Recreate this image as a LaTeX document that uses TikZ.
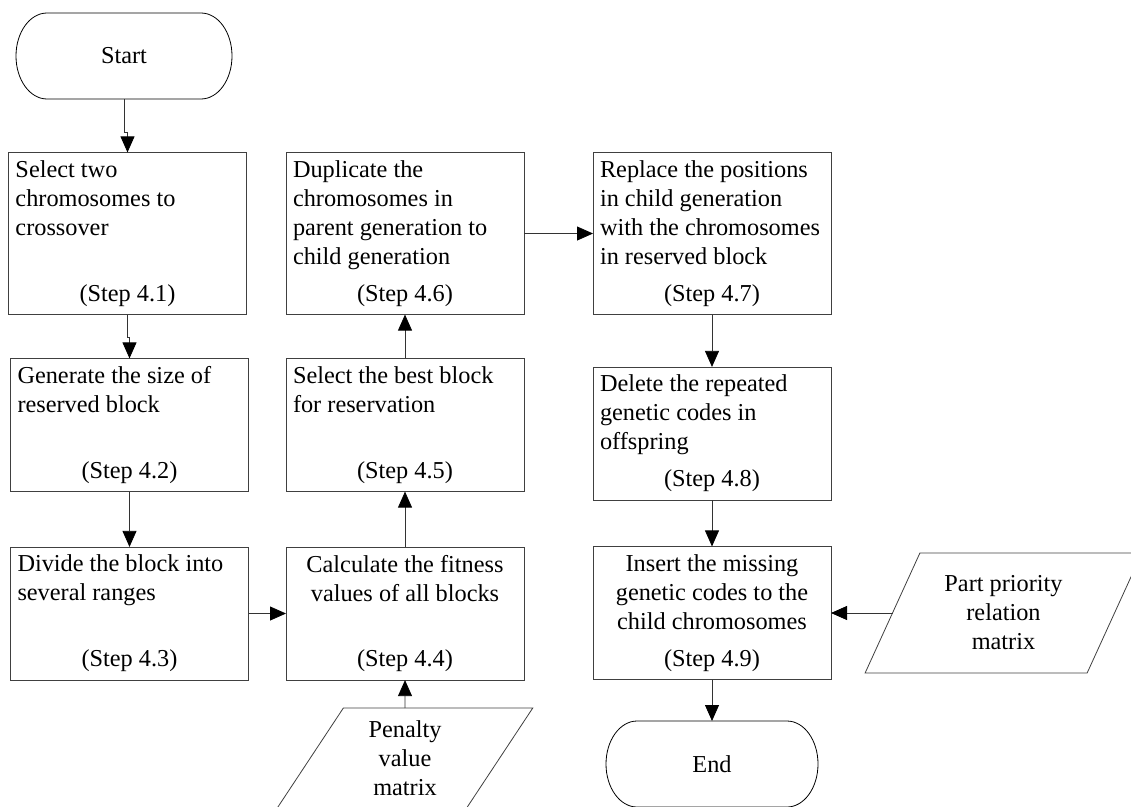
\documentclass[tikz,border=0pt]{standalone}
\usepackage{fontspec}
\setmainfont{Liberation Serif}
\usepackage{tikz}
\usetikzlibrary{arrows.meta,shapes.geometric}

\newcommand{\stepbody}[3]{\parbox[c][#1][s]{224pt}{\raggedright #2\par\vfill\centering #3}}
\newcommand{\termline}[1]{\draw[termline] ([xshift=31pt]#1.north west) -- ([xshift=-31pt]#1.north east) arc[start angle=90,end angle=-90,x radius=31pt,y radius=43pt] -- ([xshift=31pt]#1.south west) arc[start angle=270,end angle=90,x radius=31pt,y radius=43pt] -- cycle;}

\tikzset{
	stepbox/.style={draw=black!75,line width=0.8pt,inner xsep=7pt,inner ysep=8pt,outer sep=0pt},
	term/.style={minimum width=216pt,minimum height=86pt,inner sep=0pt,outer sep=0pt},
	termline/.style={draw=black,line width=0.8pt},
	datapar/.style={draw=black!75,line width=0.8pt,trapezium,trapezium left angle=62.5,trapezium right angle=117.5,trapezium stretches=true,align=center,inner sep=0pt,outer sep=0pt},
	arr/.style={draw=black!80,line width=0.8pt,-{Triangle[length=16pt,width=14pt,color=black]}},
}

\begin{document}
\begin{tikzpicture}[x=1pt,y=1pt,every node/.style={font=\fontsize{24.3pt}{29pt}\selectfont}]
			\useasboundingbox (0,0) rectangle (1131,-806);
			\clip (0,0) rectangle (1131,-806);
			% terminals
			\node (start) at (124,-56) [term] {Start};
			\termline{start}
			\node (stop) at (712,-764) [term,minimum width=212pt] {End};
			\termline{stop}
			% steps
			\node (s41) at (127.5,-233.5) [stepbox] {\stepbody{141pt}{Select two\\chromosomes to\\crossover}{(Step 4.1)}};
			\node (s42) at (129.5,-425) [stepbox] {\stepbody{112pt}{Generate the size of\\reserved block}{(Step 4.2)}};
			\node (s43) at (129.5,-613.5) [stepbox] {\stepbody{112pt}{Divide the block into\\several ranges}{(Step 4.3)}};
			\node (s44) at (405,-613.5) [stepbox] {\stepbody{112pt}{\centering Calculate the fitness\\values of all blocks}{(Step 4.4)}};
			\node (s45) at (405,-425) [stepbox] {\stepbody{112pt}{Select the best block\\for reservation}{(Step 4.5)}};
			\node (s46) at (405,-233.5) [stepbox] {\stepbody{141pt}{Duplicate the\\chromosomes in\\parent generation to\\child generation}{(Step 4.6)}};
			\node (s47) at (712,-233.5) [stepbox] {\stepbody{141pt}{Replace the positions\\in child generation\\with the chromosomes\\in reserved block}{(Step 4.7)}};
			\node (s48) at (712,-433.5) [stepbox] {\stepbody{112pt}{Delete the repeated\\genetic codes in\\offspring}{(Step 4.8)}};
			\node (s49) at (712,-613) [stepbox] {\stepbody{112pt}{\centering Insert the missing\\genetic codes to the\\child chromosomes}{(Step 4.9)}};
			% data
			\node (pen) at (405,-758) [datapar,minimum width=256pt,minimum height=100pt] {Penalty\\value\\matrix};
			\node (ppr) at (1003.5,-613) [datapar,minimum width=277pt,minimum height=120pt] {Part priority\\relation\\matrix};
			% flow
			\draw[arr] (start.south) -- ++(0,-33) -| (s41.north);
			\draw[arr] (s41.south) -- ++(0,-23) -| (s42.north);
			\draw[arr] (s42.south) -- (s43.north);
			\draw[arr] (s43.east) -- (s44.west);
			\draw[arr] (s44.north) -- (s45.south);
			\draw[arr] (s45.north) -- (s46.south);
			\draw[arr] (s46.east) -- (s47.west);
			\draw[arr] (s47.south) -- (s48.north);
			\draw[arr] (s48.south) -- (s49.north);
			\draw[arr] (s49.south) -- (stop.north);
			\draw[arr] (pen.north) -- (s44.south);
			\draw[arr] (ppr.left side) -- (s49.east);
		\end{tikzpicture}
\end{document}
